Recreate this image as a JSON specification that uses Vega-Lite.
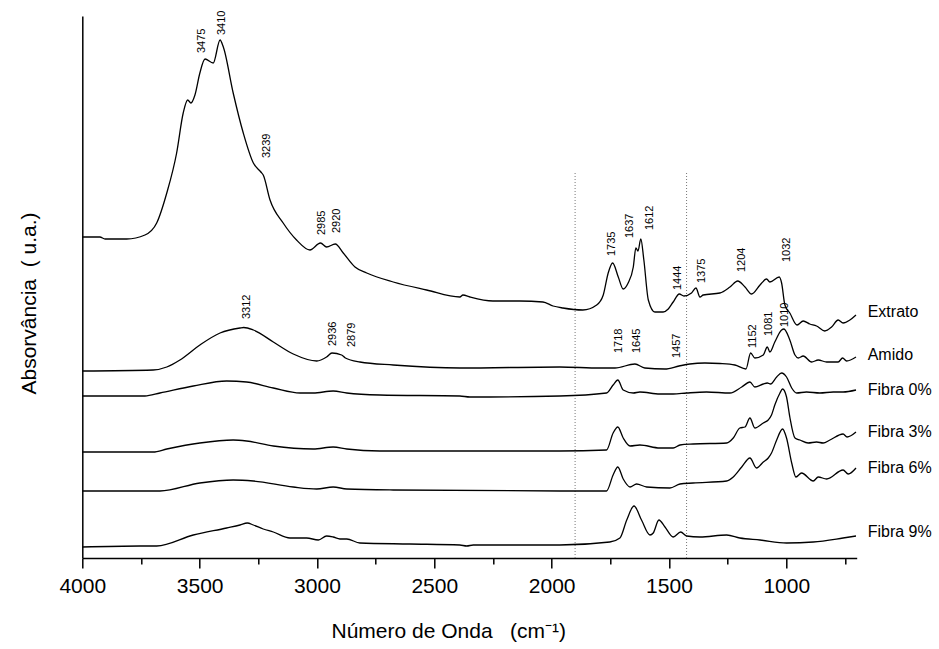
{
  "$schema": "https://vega.github.io/schema/vega-lite/v6.json",
  "width": 774.4,
  "height": 542,
  "autosize": {"type": "none"},
  "padding": {"left": 82.3, "top": 16, "right": 82.3, "bottom": 91},
  "config": {
    "view": {"stroke": null},
    "font": "Liberation Sans",
    "axis": {"labelFont": "Liberation Sans", "titleFont": "Liberation Sans"},
    "axisY": {"ticks": false, "labels": false, "grid": false, "domainColor": "black", "domainWidth": 1.5, "titleFontSize": 21, "titleFontWeight": "normal", "titleColor": "black", "titlePadding": 43, "titleY": 287},
    "text": {"font": "Liberation Sans"}
  },
  "resolve": {"axis": {"x": "independent"}},
  "datasets": {
    "spectra": [
      {"s":"Extrato","wn":4000,"a":321},{"s":"Extrato","wn":3925,"a":321},{"s":"Extrato","wn":3903,"a":319},{"s":"Extrato","wn":3811,"a":319},{"s":"Extrato","wn":3733,"a":323},{"s":"Extrato","wn":3683,"a":335},{"s":"Extrato","wn":3640,"a":365},{"s":"Extrato","wn":3598,"a":405},{"s":"Extrato","wn":3570,"a":445},{"s":"Extrato","wn":3551,"a":458},{"s":"Extrato","wn":3537,"a":455},{"s":"Extrato","wn":3520,"a":463},{"s":"Extrato","wn":3499,"a":485},{"s":"Extrato","wn":3477,"a":499},{"s":"Extrato","wn":3442,"a":495},{"s":"Extrato","wn":3413,"a":518},{"s":"Extrato","wn":3399,"a":511},{"s":"Extrato","wn":3357,"a":465},{"s":"Extrato","wn":3314,"a":425},{"s":"Extrato","wn":3271,"a":395},{"s":"Extrato","wn":3239,"a":386},{"s":"Extrato","wn":3229,"a":383},{"s":"Extrato","wn":3200,"a":358},{"s":"Extrato","wn":3144,"a":335},{"s":"Extrato","wn":3087,"a":318},{"s":"Extrato","wn":3030,"a":308},{"s":"Extrato","wn":2985,"a":315},{"s":"Extrato","wn":2959,"a":311},{"s":"Extrato","wn":2922,"a":314},{"s":"Extrato","wn":2888,"a":305},{"s":"Extrato","wn":2838,"a":291},{"s":"Extrato","wn":2788,"a":285},{"s":"Extrato","wn":2675,"a":276},{"s":"Extrato","wn":2533,"a":268},{"s":"Extrato","wn":2391,"a":261},{"s":"Extrato","wn":2378,"a":263},{"s":"Extrato","wn":2348,"a":261},{"s":"Extrato","wn":2250,"a":257},{"s":"Extrato","wn":2135,"a":257},{"s":"Extrato","wn":2037,"a":256},{"s":"Extrato","wn":1994,"a":252},{"s":"Extrato","wn":1952,"a":250},{"s":"Extrato","wn":1867,"a":248},{"s":"Extrato","wn":1808,"a":253},{"s":"Extrato","wn":1780,"a":263},{"s":"Extrato","wn":1759,"a":285},{"s":"Extrato","wn":1740,"a":295},{"s":"Extrato","wn":1716,"a":281},{"s":"Extrato","wn":1695,"a":269},{"s":"Extrato","wn":1674,"a":275},{"s":"Extrato","wn":1652,"a":291},{"s":"Extrato","wn":1641,"a":310},{"s":"Extrato","wn":1632,"a":307},{"s":"Extrato","wn":1620,"a":319},{"s":"Extrato","wn":1607,"a":298},{"s":"Extrato","wn":1588,"a":258},{"s":"Extrato","wn":1560,"a":246},{"s":"Extrato","wn":1525,"a":246},{"s":"Extrato","wn":1503,"a":249},{"s":"Extrato","wn":1482,"a":256},{"s":"Extrato","wn":1456,"a":264},{"s":"Extrato","wn":1436,"a":262},{"s":"Extrato","wn":1404,"a":265},{"s":"Extrato","wn":1385,"a":270},{"s":"Extrato","wn":1368,"a":261},{"s":"Extrato","wn":1354,"a":263},{"s":"Extrato","wn":1283,"a":265},{"s":"Extrato","wn":1240,"a":271},{"s":"Extrato","wn":1207,"a":277},{"s":"Extrato","wn":1176,"a":271},{"s":"Extrato","wn":1148,"a":264},{"s":"Extrato","wn":1112,"a":273},{"s":"Extrato","wn":1084,"a":279},{"s":"Extrato","wn":1070,"a":276},{"s":"Extrato","wn":1030,"a":281},{"s":"Extrato","wn":1020,"a":275},{"s":"Extrato","wn":1006,"a":253},{"s":"Extrato","wn":985,"a":245},{"s":"Extrato","wn":954,"a":233},{"s":"Extrato","wn":928,"a":237},{"s":"Extrato","wn":900,"a":234},{"s":"Extrato","wn":871,"a":232},{"s":"Extrato","wn":836,"a":227},{"s":"Extrato","wn":807,"a":231},{"s":"Extrato","wn":779,"a":238},{"s":"Extrato","wn":758,"a":235},{"s":"Extrato","wn":729,"a":238},{"s":"Extrato","wn":703,"a":243},

      {"s":"Amido","wn":4000,"a":187},{"s":"Amido","wn":3698,"a":188},{"s":"Amido","wn":3640,"a":191},{"s":"Amido","wn":3584,"a":198},{"s":"Amido","wn":3499,"a":213},{"s":"Amido","wn":3413,"a":225},{"s":"Amido","wn":3328,"a":230},{"s":"Amido","wn":3312,"a":230.5},{"s":"Amido","wn":3271,"a":228},{"s":"Amido","wn":3186,"a":216},{"s":"Amido","wn":3101,"a":204},{"s":"Amido","wn":3001,"a":197},{"s":"Amido","wn":2959,"a":201},{"s":"Amido","wn":2936,"a":205},{"s":"Amido","wn":2895,"a":203},{"s":"Amido","wn":2879,"a":200},{"s":"Amido","wn":2817,"a":196},{"s":"Amido","wn":2675,"a":193},{"s":"Amido","wn":2391,"a":190},{"s":"Amido","wn":1965,"a":191},{"s":"Amido","wn":1794,"a":190},{"s":"Amido","wn":1730,"a":190},{"s":"Amido","wn":1645,"a":194},{"s":"Amido","wn":1603,"a":190},{"s":"Amido","wn":1517,"a":189},{"s":"Amido","wn":1457,"a":192},{"s":"Amido","wn":1411,"a":194},{"s":"Amido","wn":1347,"a":195},{"s":"Amido","wn":1283,"a":194.5},{"s":"Amido","wn":1219,"a":193},{"s":"Amido","wn":1172,"a":189},{"s":"Amido","wn":1152,"a":205},{"s":"Amido","wn":1134,"a":200},{"s":"Amido","wn":1098,"a":203},{"s":"Amido","wn":1081,"a":211},{"s":"Amido","wn":1070,"a":206},{"s":"Amido","wn":1049,"a":216},{"s":"Amido","wn":1020,"a":228},{"s":"Amido","wn":1010,"a":229},{"s":"Amido","wn":985,"a":218},{"s":"Amido","wn":963,"a":203},{"s":"Amido","wn":949,"a":200},{"s":"Amido","wn":928,"a":202},{"s":"Amido","wn":892,"a":196},{"s":"Amido","wn":864,"a":198},{"s":"Amido","wn":828,"a":196},{"s":"Amido","wn":779,"a":196},{"s":"Amido","wn":760,"a":200},{"s":"Amido","wn":743,"a":197},{"s":"Amido","wn":703,"a":201},

      {"s":"Fibra 0%","wn":4000,"a":162},{"s":"Fibra 0%","wn":3733,"a":162},{"s":"Fibra 0%","wn":3669,"a":165},{"s":"Fibra 0%","wn":3527,"a":172},{"s":"Fibra 0%","wn":3385,"a":177},{"s":"Fibra 0%","wn":3300,"a":176},{"s":"Fibra 0%","wn":3186,"a":170},{"s":"Fibra 0%","wn":3072,"a":165},{"s":"Fibra 0%","wn":3016,"a":165},{"s":"Fibra 0%","wn":2931,"a":167},{"s":"Fibra 0%","wn":2873,"a":165},{"s":"Fibra 0%","wn":2732,"a":163},{"s":"Fibra 0%","wn":2391,"a":162},{"s":"Fibra 0%","wn":2348,"a":161},{"s":"Fibra 0%","wn":1965,"a":162},{"s":"Fibra 0%","wn":1766,"a":165},{"s":"Fibra 0%","wn":1738,"a":173},{"s":"Fibra 0%","wn":1718,"a":178},{"s":"Fibra 0%","wn":1695,"a":168},{"s":"Fibra 0%","wn":1652,"a":165},{"s":"Fibra 0%","wn":1624,"a":166},{"s":"Fibra 0%","wn":1539,"a":164},{"s":"Fibra 0%","wn":1482,"a":164},{"s":"Fibra 0%","wn":1425,"a":165},{"s":"Fibra 0%","wn":1340,"a":166},{"s":"Fibra 0%","wn":1240,"a":165},{"s":"Fibra 0%","wn":1190,"a":171},{"s":"Fibra 0%","wn":1155,"a":176},{"s":"Fibra 0%","wn":1134,"a":171},{"s":"Fibra 0%","wn":1098,"a":174},{"s":"Fibra 0%","wn":1081,"a":175},{"s":"Fibra 0%","wn":1067,"a":174},{"s":"Fibra 0%","wn":1041,"a":181},{"s":"Fibra 0%","wn":1020,"a":185},{"s":"Fibra 0%","wn":999,"a":181},{"s":"Fibra 0%","wn":977,"a":170},{"s":"Fibra 0%","wn":956,"a":165},{"s":"Fibra 0%","wn":914,"a":166},{"s":"Fibra 0%","wn":857,"a":165},{"s":"Fibra 0%","wn":800,"a":166},{"s":"Fibra 0%","wn":758,"a":166},{"s":"Fibra 0%","wn":703,"a":168},

      {"s":"Fibra 3%","wn":4000,"a":106},{"s":"Fibra 3%","wn":3698,"a":106},{"s":"Fibra 3%","wn":3640,"a":109},{"s":"Fibra 3%","wn":3499,"a":115},{"s":"Fibra 3%","wn":3357,"a":118},{"s":"Fibra 3%","wn":3300,"a":117},{"s":"Fibra 3%","wn":3186,"a":112},{"s":"Fibra 3%","wn":3016,"a":109},{"s":"Fibra 3%","wn":2931,"a":111},{"s":"Fibra 3%","wn":2873,"a":109},{"s":"Fibra 3%","wn":2732,"a":107},{"s":"Fibra 3%","wn":1965,"a":107},{"s":"Fibra 3%","wn":1766,"a":108},{"s":"Fibra 3%","wn":1738,"a":125},{"s":"Fibra 3%","wn":1718,"a":131},{"s":"Fibra 3%","wn":1695,"a":120},{"s":"Fibra 3%","wn":1666,"a":112},{"s":"Fibra 3%","wn":1624,"a":113},{"s":"Fibra 3%","wn":1539,"a":110},{"s":"Fibra 3%","wn":1482,"a":110},{"s":"Fibra 3%","wn":1453,"a":113},{"s":"Fibra 3%","wn":1397,"a":114},{"s":"Fibra 3%","wn":1254,"a":115},{"s":"Fibra 3%","wn":1226,"a":120},{"s":"Fibra 3%","wn":1198,"a":130},{"s":"Fibra 3%","wn":1176,"a":131},{"s":"Fibra 3%","wn":1155,"a":140},{"s":"Fibra 3%","wn":1134,"a":130},{"s":"Fibra 3%","wn":1098,"a":135},{"s":"Fibra 3%","wn":1077,"a":138},{"s":"Fibra 3%","wn":1063,"a":143},{"s":"Fibra 3%","wn":1049,"a":153},{"s":"Fibra 3%","wn":1027,"a":165},{"s":"Fibra 3%","wn":1016,"a":169},{"s":"Fibra 3%","wn":999,"a":161},{"s":"Fibra 3%","wn":985,"a":141},{"s":"Fibra 3%","wn":963,"a":120},{"s":"Fibra 3%","wn":942,"a":118},{"s":"Fibra 3%","wn":907,"a":115},{"s":"Fibra 3%","wn":871,"a":116},{"s":"Fibra 3%","wn":843,"a":115},{"s":"Fibra 3%","wn":814,"a":118},{"s":"Fibra 3%","wn":758,"a":124},{"s":"Fibra 3%","wn":741,"a":121},{"s":"Fibra 3%","wn":703,"a":126},

      {"s":"Fibra 6%","wn":4000,"a":67},{"s":"Fibra 6%","wn":3669,"a":67},{"s":"Fibra 6%","wn":3499,"a":75},{"s":"Fibra 6%","wn":3357,"a":78},{"s":"Fibra 6%","wn":3271,"a":77},{"s":"Fibra 6%","wn":3101,"a":71},{"s":"Fibra 6%","wn":3001,"a":69},{"s":"Fibra 6%","wn":2931,"a":71},{"s":"Fibra 6%","wn":2873,"a":69},{"s":"Fibra 6%","wn":2675,"a":68},{"s":"Fibra 6%","wn":1965,"a":67},{"s":"Fibra 6%","wn":1766,"a":67},{"s":"Fibra 6%","wn":1738,"a":83},{"s":"Fibra 6%","wn":1718,"a":91},{"s":"Fibra 6%","wn":1695,"a":79},{"s":"Fibra 6%","wn":1666,"a":71},{"s":"Fibra 6%","wn":1638,"a":74},{"s":"Fibra 6%","wn":1595,"a":71},{"s":"Fibra 6%","wn":1496,"a":70},{"s":"Fibra 6%","wn":1453,"a":74},{"s":"Fibra 6%","wn":1397,"a":75},{"s":"Fibra 6%","wn":1254,"a":77},{"s":"Fibra 6%","wn":1226,"a":81},{"s":"Fibra 6%","wn":1190,"a":91},{"s":"Fibra 6%","wn":1155,"a":100},{"s":"Fibra 6%","wn":1127,"a":90},{"s":"Fibra 6%","wn":1098,"a":96},{"s":"Fibra 6%","wn":1077,"a":100},{"s":"Fibra 6%","wn":1063,"a":105},{"s":"Fibra 6%","wn":1041,"a":118},{"s":"Fibra 6%","wn":1016,"a":129},{"s":"Fibra 6%","wn":999,"a":120},{"s":"Fibra 6%","wn":977,"a":95},{"s":"Fibra 6%","wn":959,"a":81},{"s":"Fibra 6%","wn":935,"a":85},{"s":"Fibra 6%","wn":885,"a":77},{"s":"Fibra 6%","wn":864,"a":81},{"s":"Fibra 6%","wn":828,"a":79},{"s":"Fibra 6%","wn":758,"a":88},{"s":"Fibra 6%","wn":736,"a":84},{"s":"Fibra 6%","wn":703,"a":90},

      {"s":"Fibra 9%","wn":4000,"a":11},{"s":"Fibra 9%","wn":3754,"a":12},{"s":"Fibra 9%","wn":3683,"a":12},{"s":"Fibra 9%","wn":3527,"a":23},{"s":"Fibra 9%","wn":3385,"a":30},{"s":"Fibra 9%","wn":3328,"a":33},{"s":"Fibra 9%","wn":3297,"a":35},{"s":"Fibra 9%","wn":3271,"a":33},{"s":"Fibra 9%","wn":3229,"a":29},{"s":"Fibra 9%","wn":3186,"a":26},{"s":"Fibra 9%","wn":3115,"a":20},{"s":"Fibra 9%","wn":3044,"a":20},{"s":"Fibra 9%","wn":2994,"a":18},{"s":"Fibra 9%","wn":2959,"a":22},{"s":"Fibra 9%","wn":2931,"a":21},{"s":"Fibra 9%","wn":2902,"a":19},{"s":"Fibra 9%","wn":2873,"a":19},{"s":"Fibra 9%","wn":2817,"a":15},{"s":"Fibra 9%","wn":2604,"a":14},{"s":"Fibra 9%","wn":2391,"a":13},{"s":"Fibra 9%","wn":2362,"a":12},{"s":"Fibra 9%","wn":2334,"a":13},{"s":"Fibra 9%","wn":1965,"a":13},{"s":"Fibra 9%","wn":1752,"a":16},{"s":"Fibra 9%","wn":1709,"a":20},{"s":"Fibra 9%","wn":1680,"a":38},{"s":"Fibra 9%","wn":1649,"a":52},{"s":"Fibra 9%","wn":1617,"a":38},{"s":"Fibra 9%","wn":1581,"a":23},{"s":"Fibra 9%","wn":1567,"a":25},{"s":"Fibra 9%","wn":1543,"a":38},{"s":"Fibra 9%","wn":1517,"a":31},{"s":"Fibra 9%","wn":1482,"a":21},{"s":"Fibra 9%","wn":1450,"a":26},{"s":"Fibra 9%","wn":1425,"a":22},{"s":"Fibra 9%","wn":1368,"a":21},{"s":"Fibra 9%","wn":1254,"a":23},{"s":"Fibra 9%","wn":1198,"a":20},{"s":"Fibra 9%","wn":1112,"a":18},{"s":"Fibra 9%","wn":999,"a":15},{"s":"Fibra 9%","wn":885,"a":16},{"s":"Fibra 9%","wn":758,"a":20},{"s":"Fibra 9%","wn":703,"a":22}
    ],
    "peaks": [
      {"t":"3475","wn":3491,"a":505},{"t":"3410","wn":3403,"a":523},{"t":"3239","wn":3214,"a":400},{"t":"2985","wn":2977,"a":323},{"t":"2920","wn":2915,"a":325},{"t":"1735","wn":1741,"a":302},{"t":"1637","wn":1666,"a":320},{"t":"1612","wn":1581,"a":328},{"t":"1444","wn":1460,"a":268},{"t":"1375","wn":1361,"a":275},{"t":"1204","wn":1187,"a":286},{"t":"1032","wn":995,"a":296},{"t":"3312","wn":3300,"a":239},{"t":"2936","wn":2931,"a":212},{"t":"2879","wn":2852,"a":211},{"t":"1718","wn":1713,"a":205},{"t":"1645","wn":1638,"a":205},{"t":"1457","wn":1464,"a":200},{"t":"1152","wn":1144,"a":210},{"t":"1081","wn":1074,"a":222},{"t":"1010","wn":1006,"a":231}
    ],
    "labels": [
      {"s":"Extrato","wn":700,"a":246},{"s":"Amido","wn":700,"a":203},{"s":"Fibra 0%","wn":700,"a":168},{"s":"Fibra 3%","wn":700,"a":126},{"s":"Fibra 6%","wn":700,"a":90},{"s":"Fibra 9%","wn":700,"a":26}
    ],
    "guides": [
      {"wn":1900,"y0":0,"y1":385},{"wn":1425,"y0":0,"y1":385}
    ]
  },
  "layer": [
    {
      "data": {"name": "guides"},
      "mark": {"type": "rule", "color": "#777777", "strokeWidth": 1, "strokeDash": [1, 2]},
      "encoding": {
        "x": {"field": "wn", "type": "quantitative",
          "axis": {"orient": "bottom", "values": [3750, 3250, 2750, 2250, 1750, 1250, 750], "labels": false, "domain": false, "grid": false, "tickSize": 6, "tickWidth": 1.5, "tickColor": "black", "title": null}},
        "y": {"field": "y0", "type": "quantitative", "title": "Absorvância\u00a0 ( u.a.)"},
        "y2": {"field": "y1"}
      }
    },
    {
      "data": {"name": "spectra"},
      "mark": {"type": "line", "color": "black", "strokeWidth": 1.3, "interpolate": "monotone"},
      "encoding": {
        "x": {"field": "wn", "type": "quantitative",
          "scale": {"domain": [700, 4000], "reverse": true, "nice": false, "zero": false},
          "axis": {"orient": "bottom", "values": [4000, 3500, 3000, 2500, 2000, 1500, 1000], "format": "d", "grid": false, "tickSize": 10, "tickWidth": 1.5, "tickColor": "black", "domainColor": "black", "domainWidth": 1.5, "labelFontSize": 21, "labelColor": "black", "labelPadding": 7, "labelFlush": false, "labelOverlap": false, "title": "Número de Onda\u00a0\u00a0 (cm⁻¹)", "titleFontSize": 21, "titleFontWeight": "normal", "titleColor": "black", "titleX": 366, "titleY": 62, "titleBaseline": "top"}},
        "y": {"field": "a", "type": "quantitative",
          "scale": {"domain": [0, 542], "nice": false, "zero": false},
          "title": "Absorvância\u00a0 ( u.a.)"},
        "detail": {"field": "s", "type": "nominal"}
      }
    },
    {
      "data": {"name": "peaks"},
      "mark": {"type": "text", "angle": 270, "align": "left", "baseline": "middle", "fontSize": 11, "color": "black"},
      "encoding": {
        "x": {"field": "wn", "type": "quantitative", "axis": null},
        "y": {"field": "a", "type": "quantitative", "title": "Absorvância\u00a0 ( u.a.)"},
        "text": {"field": "t", "type": "nominal"}
      }
    },
    {
      "data": {"name": "labels"},
      "mark": {"type": "text", "align": "left", "baseline": "middle", "dx": 11, "fontSize": 16, "color": "black"},
      "encoding": {
        "x": {"field": "wn", "type": "quantitative", "axis": null},
        "y": {"field": "a", "type": "quantitative", "title": "Absorvância\u00a0 ( u.a.)"},
        "text": {"field": "s", "type": "nominal"}
      }
    }
  ]
}
